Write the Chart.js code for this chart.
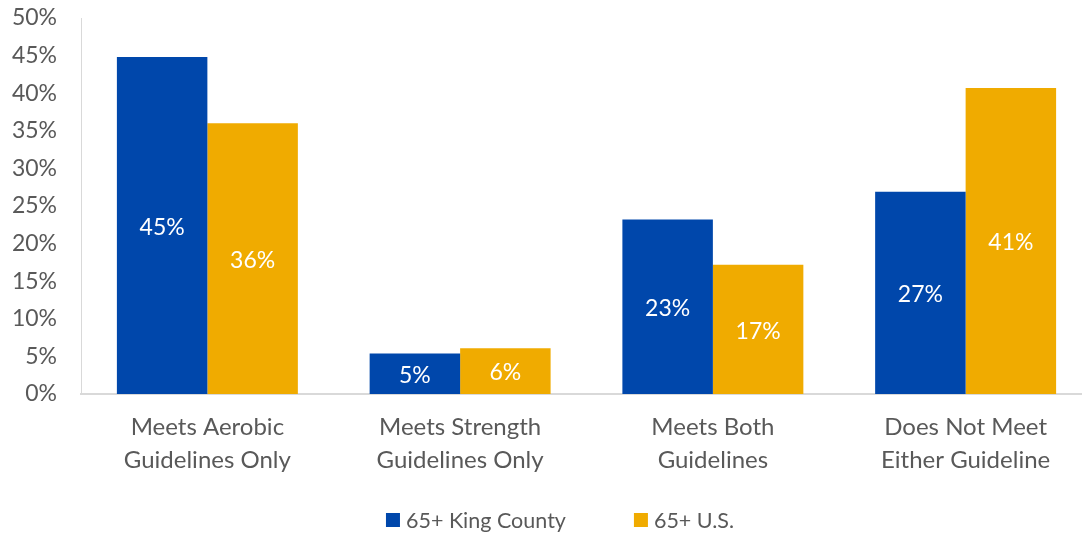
<!DOCTYPE html>
<html>
<head>
<meta charset="utf-8">
<script src="https://cdn.jsdelivr.net/npm/chart.js@4.4.0/dist/chart.umd.min.js"></script>
<style>
  html, body { margin: 0; padding: 0; background: #fff; overflow: hidden; }
  #wrap { width: 1092px; height: 535px; }
</style>
</head>
<body>
<div id="wrap"><canvas id="activityChart"></canvas></div>
<script>
const categories = [
    ['Meets Aerobic', 'Guidelines Only'],
    ['Meets Strength', 'Guidelines Only'],
    ['Meets Both', 'Guidelines'],
    ['Does Not Meet', 'Either Guideline']
];
const seriesNames = ['65+ King County', '65+ U.S.'];
const kingCounty = [44.8, 5.4, 23.2, 26.9];
const unitedStates = [36.0, 6.1, 17.2, 40.7];
const yMax = 50;
const yStep = 5;

const FONT = 'Lato';
const TEXT_GREY = '#595959';
const AXIS_GREY = '#d9d9d9';

// white value labels centred inside each bar
const barLabels = {
    id: 'barLabels',
    afterDatasetsDraw(chart) {
        const ctx = chart.ctx;
        ctx.save();
        ctx.font = '23px ' + FONT;
        ctx.fillStyle = '#ffffff';
        ctx.textAlign = 'center';
        ctx.textBaseline = 'middle';
        chart.data.datasets.forEach((ds, i) => {
            chart.getDatasetMeta(i).data.forEach((bar, j) => {
                const y = (bar.y + bar.base) / 2 + 2;
                ctx.fillText(Math.round(ds.data[j]) + '%', bar.x, y);
            });
        });
        ctx.restore();
    }
};

// legend row at the bottom: square swatch + series name, wide gap between items
const bottomLegend = {
    id: 'bottomLegend',
    afterDraw(chart, args, opts) {
        const ctx = chart.ctx;
        const box = 14, gap = 6, spacing = 68;
        ctx.save();
        ctx.font = '21.5px ' + FONT;
        ctx.textBaseline = 'middle';
        const items = chart.data.datasets.map(ds => ({
            text: ds.label,
            color: ds.backgroundColor,
            w: box + gap + ctx.measureText(ds.label).width
        }));
        const total = items.reduce((s, it) => s + it.w, 0) + spacing * (items.length - 1);
        let x = opts.centerX - total / 2;
        const y = chart.height - opts.bottomOffset;
        items.forEach(it => {
            ctx.fillStyle = it.color;
            ctx.fillRect(x, y - box / 2, box, box);
            ctx.fillStyle = TEXT_GREY;
            ctx.fillText(it.text, x + box + gap, y + 1);
            x += it.w + spacing;
        });
        ctx.restore();
    }
};

function initChart() {
    const ctx = document.getElementById('activityChart').getContext('2d');

    const data = {
        labels: categories,
        datasets: [{
            label: seriesNames[0],
            data: kingCounty,
            backgroundColor: '#0047ab'
        }, {
            label: seriesNames[1],
            data: unitedStates,
            backgroundColor: '#f0ab00'
        }]
    };

    const config = {
        type: 'bar',
        data: data,
        options: {
            responsive: true,
            maintainAspectRatio: false,
            animation: false,
            layout: {
                padding: { top: 18, left: 0, right: 0, bottom: 0 }
            },
            datasets: {
                bar: {
                    categoryPercentage: 0.716,
                    barPercentage: 1.0
                }
            },
            scales: {
                x: {
                    grid: { display: false, drawTicks: false },
                    border: { display: true, color: AXIS_GREY, width: 2 },
                    ticks: {
                        color: TEXT_GREY,
                        font: { family: FONT, size: 24, lineHeight: 1.38 },
                        padding: 17,
                        maxRotation: 0
                    },
                    afterFit: scale => { scale.height = 141; }
                },
                y: {
                    min: 0,
                    max: yMax,
                    // tick marks hidden, their length only spaces the labels off the axis
                    grid: { display: false, drawTicks: true, tickLength: 24 },
                    border: { display: true, color: AXIS_GREY, width: 1 },
                    ticks: {
                        stepSize: yStep,
                        color: TEXT_GREY,
                        font: { family: FONT, size: 23 },
                        padding: 0,
                        callback: v => v + '%'
                    },
                    afterFit: scale => { scale.width = 81; }
                }
            },
            plugins: {
                legend: { display: false },
                tooltip: { enabled: false },
                bottomLegend: { centerX: 560, bottomOffset: 15 }
            }
        },
        plugins: [barLabels, bottomLegend]
    };

    return new Chart(ctx, config);
}

document.addEventListener('DOMContentLoaded', () => {
    initChart();
});
</script>
</body>
</html>
